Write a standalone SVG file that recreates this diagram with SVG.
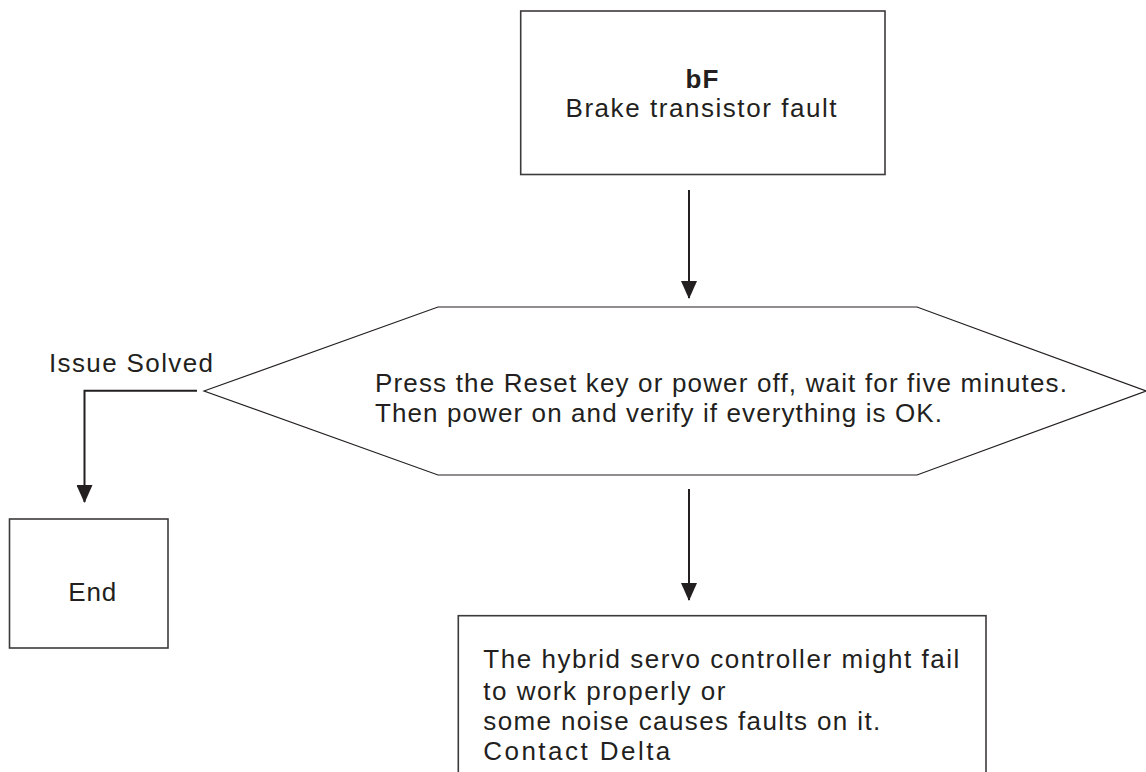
<svg xmlns="http://www.w3.org/2000/svg" width="1146" height="772" viewBox="0 0 1146 772">
<defs>
<style>
.box{fill:#ffffff;stroke:#3d3a3b;stroke-width:1.6}
.hex{fill:#ffffff;stroke:#231f20;stroke-width:1.2}
.t{font-family:"Liberation Sans",Arial,sans-serif;font-size:26px;fill:#231f20}
.b{font-weight:bold}
.conn{fill:none;stroke:#231f20;stroke-width:2}
</style>
<marker id="arr" markerUnits="userSpaceOnUse" markerWidth="18" markerHeight="16" refX="17" refY="8" orient="auto" viewBox="0 0 18 16">
<path d="M0,0 L18,8 L0,16 Z" fill="#231f20"/>
</marker>
</defs>
<rect width="1146" height="772" fill="#ffffff"/>
<g id="connectors">
<path class="conn" d="M689,190 V298" marker-end="url(#arr)"/>
<path class="conn" d="M197,390.7 H84.5 V502" marker-end="url(#arr)"/>
<path class="conn" d="M689,489 V600" marker-end="url(#arr)"/>
</g>
<g id="node-bF">
<rect class="box" x="520.7" y="11" width="364.3" height="163.5"/>
<text class="t b" x="702" y="87.7" text-anchor="middle" textLength="33" lengthAdjust="spacing">bF</text>
<text class="t" x="701" y="116.7" text-anchor="middle" textLength="271" lengthAdjust="spacing">Brake transistor fault</text>
</g>
<g id="node-reset">
<polygon class="hex" points="204,391 438,307 917,307 1146,391 917,475 438,475"/>
<text class="t" x="375" y="391.7" textLength="692" lengthAdjust="spacing">Press the Reset key or power off, wait for five minutes.</text>
<text class="t" x="375" y="421.7" textLength="567" lengthAdjust="spacing">Then power on and verify if everything is OK.</text>
</g>
<g id="label-issue-solved">
<text class="t" x="49" y="372" textLength="164" lengthAdjust="spacing">Issue Solved</text>
</g>
<g id="node-end">
<rect class="box" x="9.5" y="519" width="158.5" height="129"/>
<text class="t" x="68.3" y="600.7" textLength="48" lengthAdjust="spacing">End</text>
</g>
<g id="node-contact">
<rect class="box" x="458.3" y="615.7" width="527.7" height="200"/>
<text class="t" x="483.3" y="668.3" textLength="476" lengthAdjust="spacing">The hybrid servo controller might fail</text>
<text class="t" x="483.3" y="700" textLength="242" lengthAdjust="spacing">to work properly or</text>
<text class="t" x="483.3" y="730" textLength="397" lengthAdjust="spacing">some noise causes faults on it.</text>
<text class="t" x="483.3" y="760" textLength="187" lengthAdjust="spacing">Contact Delta</text>
</g>
</svg>
